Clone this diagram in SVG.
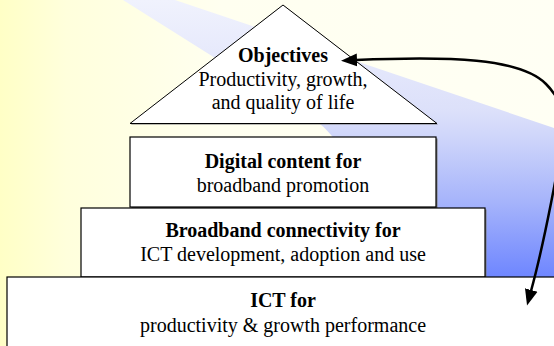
<svg xmlns="http://www.w3.org/2000/svg" width="554" height="346" viewBox="0 0 554 346">
  <defs>
    <linearGradient id="bgY" x1="0" y1="0" x2="554" y2="0" gradientUnits="userSpaceOnUse">
      <stop offset="0" stop-color="#FFFFC6"/>
      <stop offset="0.12" stop-color="#FFFFDC"/>
      <stop offset="0.4" stop-color="#FFFFF0"/>
      <stop offset="1" stop-color="#FFFFF4"/>
    </linearGradient>
    <linearGradient id="beam" x1="0" y1="0" x2="0" y2="280" gradientUnits="userSpaceOnUse">
      <stop offset="0" stop-color="#F0F2FD"/>
      <stop offset="0.4" stop-color="#DCE0FA"/>
      <stop offset="0.5" stop-color="#CDD4FA"/>
      <stop offset="0.72" stop-color="#A6B4FB"/>
      <stop offset="1" stop-color="#6C84FF"/>
    </linearGradient>
    <marker id="ah" markerUnits="userSpaceOnUse" markerWidth="18" markerHeight="14" refX="1" refY="6.5" orient="auto-start-reverse" viewBox="0 0 18 13">
      <path d="M0,0 L16,6.5 L0,13 Z" fill="#000"/>
    </marker>
    <style>
      .box { fill: #FFFFFF; stroke: #000; stroke-width: 1.2; }
      .shadow { fill: #7A7A7A; }
      text { font-family: 'Liberation Serif', 'Times New Roman', Times, 'DejaVu Serif', serif; font-size: 20px; fill: #000; text-anchor: middle; }
      .b { font-weight: bold; }
      .conn { fill: none; stroke: #000; stroke-width: 2.5; }
    </style>
  </defs>

  <!-- background -->
  <rect x="0" y="0" width="554" height="346" fill="url(#bgY)"/>
  <path d="M123,0 L175,0 L560,130 L560,280 L420,280 C380,200 340,140 320,124 Z" fill="url(#beam)"/>

  <g id="node-objectives">
    <polygon points="283,5 438,124.5 131,124.5" class="shadow"/>
    <polygon points="283,5 437,123.5 130,123.5" fill="#FFFFFF" stroke="#000" stroke-width="1"/>
    <text class="b" x="283" y="61.5" font-family="Liberation Serif, serif">Objectives</text>
    <text x="283" y="86" font-family="Liberation Serif, serif">Productivity, growth,</text>
    <text x="283" y="109" font-family="Liberation Serif, serif">and quality of life</text>
  </g>

  <g id="node-digital">
    <rect x="131.5" y="138.5" width="306" height="70" class="shadow"/>
    <rect x="130" y="137" width="306" height="70" class="box"/>
    <text class="b" x="283" y="168" font-family="Liberation Serif, serif">Digital content for</text>
    <text x="283" y="192" font-family="Liberation Serif, serif">broadband promotion</text>
  </g>

  <g id="node-broadband">
    <rect x="82.5" y="209.5" width="404" height="69" class="shadow"/>
    <rect x="81" y="208" width="404" height="69" class="box"/>
    <text class="b" x="283" y="237" font-family="Liberation Serif, serif">Broadband connectivity for</text>
    <text x="283" y="261" font-family="Liberation Serif, serif">ICT development, adoption and use</text>
  </g>

  <g id="node-ict">
    <rect x="8.5" y="278.5" width="560" height="80" class="shadow"/>
    <rect x="7" y="277" width="560" height="80" class="box"/>
    <text class="b" x="283" y="307" font-family="Liberation Serif, serif">ICT for</text>
    <text x="283" y="332" font-family="Liberation Serif, serif">productivity &amp; growth performance</text>
  </g>

  <g id="connectors">
    <path class="conn" d="M356,60 C450,56 520,58 546,84 C560,98 566,115 563,135 C560,158 545,240 531,291" marker-start="url(#ah)" marker-end="url(#ah)"/>
  </g>
</svg>
